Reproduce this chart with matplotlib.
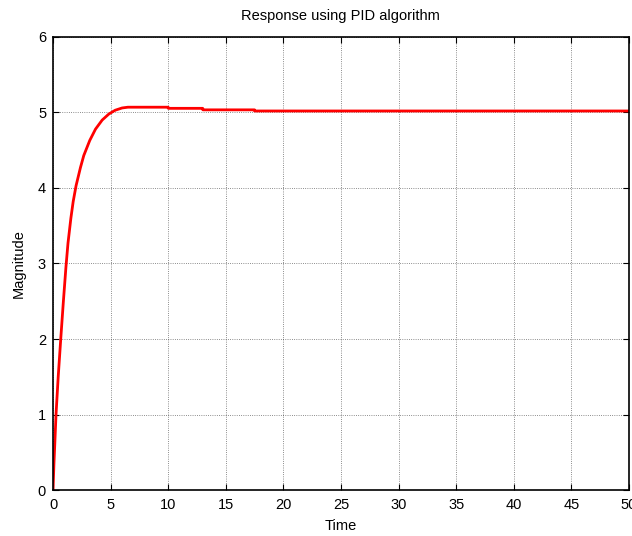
import matplotlib
matplotlib.use('Agg')
from matplotlib import pyplot as plt

# values
time = [0, 0.08, 0.15, 0.26, 0.45, 0.67, 0.9, 1.12, 1.3, 1.55, 1.75, 2.0, 2.38, 2.67,
        3.19, 3.69, 4.27, 4.85, 5.4, 6.0, 6.5, 10.0, 10.01, 13.0, 13.01, 17.5, 17.51, 50]
magnitude = [0, 0.35, 0.6, 1.0, 1.5, 2.0, 2.5, 2.95, 3.27, 3.6, 3.82, 4.03, 4.27, 4.43,
             4.63, 4.78, 4.9, 4.98, 5.03, 5.06, 5.07, 5.07, 5.055, 5.055, 5.035, 5.035, 5.02, 5.02]
xticks = list(range(0, 51, 5))
yticks = list(range(0, 7))

plt.rcParams['font.family'] = ['Liberation Sans', 'DejaVu Sans']

fig = plt.figure(figsize=(6.32, 5.36), dpi=100)
ax = fig.add_axes([0.0839, 0.0858, 0.9111, 0.8452])

ax.plot(time, magnitude, color='r', linewidth=2)

ax.set_xlim(0, 50)
ax.set_ylim(0, 6)
ax.set_xticks(xticks)
ax.set_yticks(yticks)
ax.tick_params(direction='in', top=True, right=True, labelsize=10.5, length=4, width=0.8)
ax.tick_params(axis='x', pad=6)
ax.tick_params(axis='y', pad=5)
ax.grid(True, color='black', linestyle=':', linewidth=0.6, alpha=0.6)
for s in ax.spines.values():
    s.set_linewidth(1.2)

ax.set_xlabel('Time', fontsize=10.5, labelpad=5)
ax.set_ylabel('Magnitude', fontsize=10.5, labelpad=9)
ax.set_title('Response using PID algorithm', fontsize=10.5, pad=12)

plt.savefig('out.png', dpi=100)
